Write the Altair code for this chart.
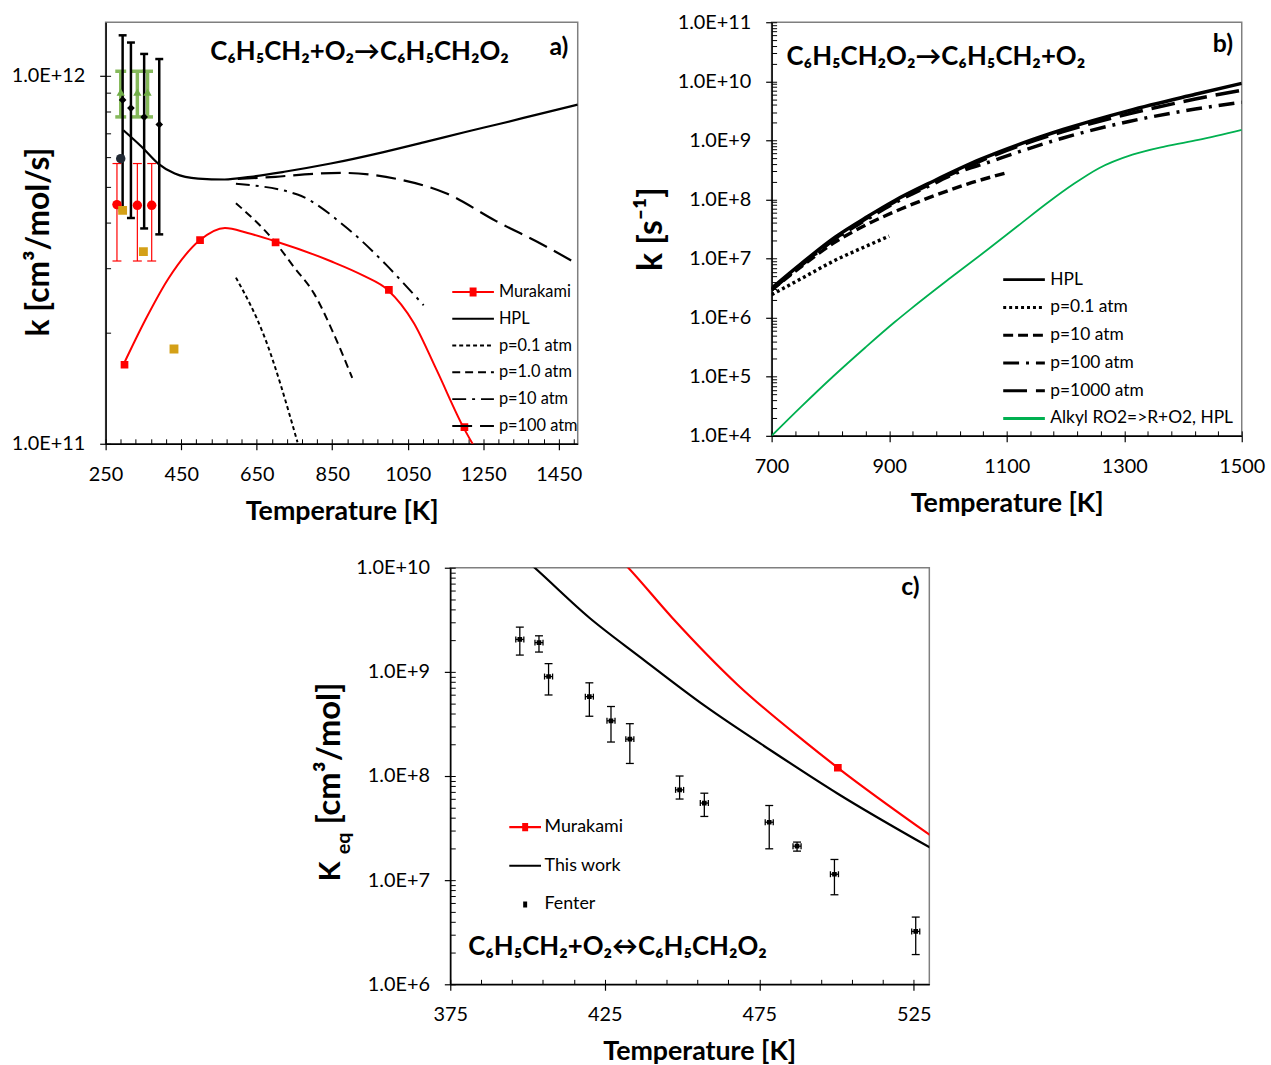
import altair as alt
import pandas as pd

FONT = "Lato"

# ---------------- Panel a : C6H5CH2 + O2 -> C6H5CH2O2 ----------------
A_HPL_T = [297, 346, 389, 433, 495, 565, 634, 723, 846, 986, 1100, 1200, 1300, 1400, 1500]
A_HPL_K = [7.12e11, 6.41e11, 5.78e11, 5.43e11, 5.26e11, 5.23e11, 5.32e11, 5.49e11, 5.78e11,
           6.21e11, 6.63e11, 7.03e11, 7.44e11, 7.89e11, 8.36e11]
A_P01_T = [595, 670, 758]
A_P01_K = [2.83e11, 1.96e11, 1.01e11]
A_P1_T = [595, 696, 749, 802, 852, 903]
A_P1_K = [4.51e11, 3.56e11, 3.02e11, 2.56e11, 2.01e11, 1.51e11]
A_P10_T = [595, 758, 889, 995, 1039, 1092]
A_P10_K = [5.09e11, 4.76e11, 3.86e11, 3.05e11, 2.73e11, 2.38e11]
A_P100_T = [600, 700, 800, 882, 1021, 1153, 1284, 1400, 1495]
A_P100_K = [5.25e11, 5.32e11, 5.42e11, 5.45e11, 5.25e11, 4.79e11, 4.03e11, 3.51e11, 3.10e11]
A_MUR_T = [297, 355, 416, 500, 566, 626, 697, 845, 934, 997, 1066, 1126, 1197, 1224]
A_MUR_K = [1.64e11, 2.17e11, 2.81e11, 3.58e11, 3.86e11, 3.74e11, 3.56e11, 3.14e11, 2.86e11,
           2.62e11, 2.13e11, 1.59e11, 1.11e11, 0.99e11]
A_MUR_PT_T = [300, 500, 700, 1000, 1200]
A_MUR_PT_K = [1.64e11, 3.58e11, 3.53e11, 2.62e11, 1.11e11]

# experimental points, panel a
A_DIA_T = [295, 317, 352, 392]
A_DIA_K = [8.61e11, 8.18e11, 7.73e11, 7.38e11]
A_DIA_LO = [4.31e11, 4.11e11, 3.85e11, 3.71e11]
A_DIA_HI = [1.29e12, 1.233e12, 1.148e12, 1.112e12]
A_TRI_T = [290, 334, 361]
A_TRI_K = [9.04e11, 9.04e11, 9.04e11]
A_TRI_LO = [7.74e11, 7.74e11, 7.74e11]
A_TRI_HI = [1.03e12, 1.03e12, 1.03e12]
A_NAVY_T = [290]
A_NAVY_K = [5.96e11]
A_RED_T = [280, 334, 372]
A_RED_K = [4.47e11, 4.45e11, 4.45e11]
A_RED_LO = [3.14e11, 3.14e11, 3.14e11]
A_RED_HI = [5.78e11, 5.78e11, 5.78e11]
A_GOLD_T = [295, 350, 431]
A_GOLD_K = [4.31e11, 3.33e11, 1.81e11]

A_NAMES = ["Murakami", "HPL", "p=0.1 atm", "p=1.0 atm", "p=10 atm", "p=100 atm"]
A_X_MAJOR = [250, 450, 650, 850, 1050, 1250, 1450]
A_X_MINOR = list(range(250, 1501, 40))
A_Y_MAJOR = [1e11, 1e12]
A_Y_MINOR = [1e11, 2e11, 3e11, 4e11, 5e11, 6e11, 7e11, 8e11, 9e11, 1e12]
A_TITLE = "C₆H₅CH₂+O₂→C₆H₅CH₂O₂"

# ---------------- Panel b : C6H5CH2O2 -> C6H5CH2 + O2 ----------------
B_HPL_T = [700, 751, 808, 864, 909, 976, 1055, 1128, 1196, 1308, 1421, 1500]
B_HPL_K = [3.16e6, 8.32e6, 2.30e7, 5.19e7, 9.53e7, 2.06e8, 4.76e8, 9.06e8, 1.53e9, 3.20e9, 6.03e9, 9.23e9]
B_P01_T = [700, 751, 808, 864, 900]
B_P01_K = [2.45e6, 4.61e6, 9.35e6, 1.67e7, 2.40e7]
B_P10_T = [700, 751, 808, 864, 920, 976, 1033, 1100]
B_P10_K = [2.95e6, 7.41e6, 1.90e7, 3.86e7, 6.90e7, 1.15e8, 1.82e8, 2.84e8]
B_P100_T = [700, 751, 808, 864, 909, 976, 1010, 1072, 1128, 1196, 1308, 1421, 1500]
B_P100_K = [2.95e6, 7.76e6, 2.14e7, 4.73e7, 8.71e7, 1.86e8, 2.69e8, 4.37e8, 6.76e8, 1.10e9, 2.09e9, 3.39e9, 4.42e9]
B_P1000_T = [700, 751, 808, 864, 909, 976, 1055, 1128, 1196, 1308, 1421, 1500]
B_P1000_K = [3.02e6, 7.94e6, 2.19e7, 4.95e7, 9.12e7, 1.95e8, 4.47e8, 8.51e8, 1.41e9, 2.82e9, 5.01e9, 7.08e9]
B_ALK_T = [700, 750, 805, 860, 910, 937, 1000, 1066, 1120, 1173, 1215, 1257, 1314, 1370, 1426, 1500]
B_ALK_K = [1.0e4, 3.09e4, 1.02e5, 3.16e5, 8.51e5, 1.41e6, 4.37e6, 1.38e7, 3.63e7, 9.33e7, 1.86e8,
           3.39e8, 5.75e8, 7.94e8, 1.02e9, 1.51e9]

B_NAMES = ["HPL", "p=0.1 atm", "p=10 atm", "p=100 atm", "p=1000 atm", "Alkyl RO2=>R+O2, HPL"]
B_X_MAJOR = [700, 900, 1100, 1300, 1500]
B_X_MINOR = list(range(700, 1501, 40))
B_Y_MAJOR = [1e4, 1e5, 1e6, 1e7, 1e8, 1e9, 1e10, 1e11]
B_Y_MINOR = [m * 10 ** e for e in range(4, 11) for m in range(1, 10)] + [1e11]
B_TITLE = "C₆H₅CH₂O₂→C₆H₅CH₂+O₂"

# ---------------- Panel c : equilibrium constant ----------------
C_THIS_T = [400, 402.3, 420.0, 436.1, 457.5, 479.0, 500.4, 530.4]
C_THIS_K = [1.15e10, 1.0e10, 3.31e9, 1.41e9, 4.68e8, 1.74e8, 6.76e7, 2.04e7]
C_MUR_T = [431, 432.3, 446.8, 468.2, 489.7, 500.4, 530.4]
C_MUR_K = [1.12e10, 1.02e10, 3.31e9, 7.41e8, 2.14e8, 1.20e8, 2.69e7]
C_MUR_PT_T = [500.4]
C_MUR_PT_K = [1.20e8]
C_FEN_T = [397.5, 403.7, 406.8, 420.0, 427.0, 433.1, 449.2, 457.2, 478.2, 487.2, 499.3, 525.6]
C_FEN_K = [2.05e9, 1.91e9, 9.02e8, 5.78e8, 3.39e8, 2.26e8, 7.36e7, 5.50e7, 3.60e7, 2.12e7, 1.14e7, 3.22e6]
C_FEN_HI = [2.69e9, 2.22e9, 1.20e9, 7.85e8, 4.65e8, 3.18e8, 1.0e8, 6.84e7, 5.21e7, 2.32e7, 1.58e7, 4.42e6]
C_FEN_LO = [1.45e9, 1.55e9, 6.0e8, 3.75e8, 2.12e8, 1.32e8, 6.01e7, 4.09e7, 2.0e7, 1.90e7, 7.24e6, 1.93e6]
C_FEN_TERR = [1.3] * 12

C_NAMES = ["Murakami", "This work", "Fenter"]
C_X_MAJOR = [375, 425, 475, 525]
C_X_MINOR = list(range(375, 531, 10))
C_Y_MAJOR = [1e6, 1e7, 1e8, 1e9, 1e10]
C_Y_MINOR = [m * 10 ** e for e in range(6, 10) for m in range(1, 10)] + [1e10]
C_TITLE = "C₆H₅CH₂+O₂↔C₆H₅CH₂O₂"

LOG_LABEL = "replace(format(datum.value, '.1e'), 'e', 'E')"

# legend symbol paths (unit coordinates)
def line_path(h):
    return f"M-{h},0H{h}"

def square_rows(s):
    rows = [-s, -s / 2, 0, s / 2, s]
    return "".join(f"M-{s},{r}H{s}" for r in rows)

A_SHAPES = [line_path(2.1) + square_rows(0.35)] + [line_path(2.1)] * 5
B_SHAPES = [line_path(2.1)] * 6
C_SHAPES = [line_path(1.6) + square_rows(0.3), line_path(1.6), square_rows(0.2)]


def xscale(dom):
    return alt.Scale(domain=dom, nice=False, zero=False)


def yscale(dom):
    return alt.Scale(type="log", domain=dom, nice=False)


def x_axis(values, title_x=None):
    kw = dict(values=values, title="Temperature [K]", orient="bottom", labelFlush=False,
              labelOverlap=False, tickSize=6, labelPadding=15, titlePadding=14, format="d",
              titleFontSize=27, titleFontWeight="bold", titleFont=FONT, titleColor="black",
              labelFont=FONT, labelFontSize=20, labelColor="black", domainColor="black",
              domainWidth=1.5, tickColor="black", tickWidth=1.2, grid=False)
    if title_x is not None:
        kw["titleX"] = title_x
    return alt.Axis(**kw)


def y_axis(values, title, tx, ty, fs=32):
    kw = dict(values=values, orient="left", labelExpr=LOG_LABEL, labelFlush=False, labelOverlap=False,
              tickSize=6, labelPadding=15, labelFont=FONT, labelFontSize=20, labelColor="black",
              domainColor="black", domainWidth=1.5, tickColor="black", tickWidth=1.2, grid=False)
    if title:
        kw.update(title=title, titleX=tx, titleY=ty, titleAngle=270, titleAlign="center",
                  titleBaseline="middle", titleFontSize=fs, titleFontWeight="bold", titleFont=FONT,
                  titleColor="black")
    else:
        kw.update(title=None)
    return alt.Axis(**kw)


def minor_axes(xs, ys, xminor, yminor):
    x = alt.X("T:Q", scale=xs, axis=alt.Axis(values=xminor, labels=False, domain=False, title=None,
                                              tickSize={"expr": "-5"}, tickColor="black", tickWidth=1,
                                              grid=False, orient="bottom"))
    y = alt.Y("k:Q", scale=ys, axis=alt.Axis(values=yminor, labels=False, domain=False, title=None,
                                              tickSize={"expr": "-5"}, tickColor="black", tickWidth=1,
                                              grid=False, orient="left"))
    return x, y


def line_layer(T, K, xs, ys, color, width, dash=None, xaxis=None, yaxis=None):
    kw = dict(color=color, strokeWidth=width, interpolate="monotone", clip=True)
    if dash:
        kw["strokeDash"] = dash
    df = pd.DataFrame({"T": T, "k": K})
    return alt.Chart(df).mark_line(**kw).encode(
        x=alt.X("T:Q", scale=xs, axis=xaxis), y=alt.Y("k:Q", scale=ys, axis=yaxis))


def point_layer(T, K, xs, ys, shape, color, size):
    df = pd.DataFrame({"T": T, "k": K})
    return alt.Chart(df).mark_point(shape=shape, filled=True, color=color, size=size, opacity=1,
                                    clip=True).encode(
        x=alt.X("T:Q", scale=xs, axis=None), y=alt.Y("k:Q", scale=ys, axis=None))


def vbar_layers(T, LO, HI, xs, ys, color, width, cap):
    df = pd.DataFrame({"T": T, "lo": LO, "hi": HI})
    base = alt.Chart(df)
    rule = base.mark_rule(color=color, strokeWidth=width).encode(
        x=alt.X("T:Q", scale=xs, axis=None), y=alt.Y("lo:Q", scale=ys, axis=None), y2="hi:Q")
    lo = base.mark_tick(color=color, thickness=width, size=cap, orient="horizontal", opacity=1).encode(
        x=alt.X("T:Q", scale=xs, axis=None), y=alt.Y("lo:Q", scale=ys, axis=None))
    hi = base.mark_tick(color=color, thickness=width, size=cap, orient="horizontal", opacity=1).encode(
        x=alt.X("T:Q", scale=xs, axis=None), y=alt.Y("hi:Q", scale=ys, axis=None))
    return [rule, lo, hi]


def hbar_layers(T, ERR, K, xs, ys, color, width, cap):
    df = pd.DataFrame({"T": T, "e": ERR, "k": K})
    base = alt.Chart(df).transform_calculate(tlo="datum.T - datum.e", thi="datum.T + datum.e")
    rule = base.mark_rule(color=color, strokeWidth=width).encode(
        x=alt.X("tlo:Q", scale=xs, axis=None), x2="thi:Q", y=alt.Y("k:Q", scale=ys, axis=None))
    lo = base.mark_tick(color=color, thickness=width, size=cap, orient="vertical", opacity=1).encode(
        x=alt.X("tlo:Q", scale=xs, axis=None), y=alt.Y("k:Q", scale=ys, axis=None))
    hi = base.mark_tick(color=color, thickness=width, size=cap, orient="vertical", opacity=1).encode(
        x=alt.X("thi:Q", scale=xs, axis=None), y=alt.Y("k:Q", scale=ys, axis=None))
    return [rule, lo, hi]


def legend_layer(names, firstT, firstK, xs, ys, xminor, yminor, colors, shapes, dashes, legend):
    df = pd.DataFrame({"series": names, "T": firstT, "k": firstK})
    x, y = minor_axes(xs, ys, xminor, yminor)
    return alt.Chart(df).mark_point(opacity=0, filled=False, clip=True).encode(
        x=x, y=y,
        color=alt.Color("series:N", scale=alt.Scale(domain=names, range=colors), legend=legend),
        shape=alt.Shape("series:N", scale=alt.Scale(domain=names, range=shapes), legend=legend),
        strokeDash=alt.StrokeDash("series:N", scale=alt.Scale(domain=names, range=dashes), legend=legend),
    )


def text_layer(txt, x, y, size, align="center", angle=0, baseline="middle"):
    df = pd.DataFrame({"t": [txt]})
    kw = dict(font=FONT, fontSize=size, align=align, baseline=baseline, color="black", fontWeight="bold")
    if angle:
        kw["angle"] = angle
    return alt.Chart(df).mark_text(**kw).encode(x=alt.value(x), y=alt.value(y), text="t:N")


def make_legend(lx, ly, size, fs, offset, rowpad, sw):
    return alt.Legend(title=None, orient="none", legendX=lx, legendY=ly, symbolSize=size,
                      labelFontSize=fs, labelFont=FONT, labelColor="black", labelOffset=offset,
                      rowPadding=rowpad, padding=0, symbolOpacity=1, symbolStrokeWidth=sw,
                      labelLimit=400)

# ---------------- build panel a ----------------
AW, AH = 476, 425
axs = xscale([250, 1500])
ays = yscale([1e11, 1.4e12])
A_DASH = [[1, 0], [1, 0], [4, 3], [8, 5], [14, 6, 3, 6], [20, 8]]
a_layers = [
    line_layer(A_HPL_T, A_HPL_K, axs, ays, "black", 2.2, None,
               xaxis=x_axis(A_X_MAJOR), yaxis=y_axis(A_Y_MAJOR, "k [cm³/mol/s]", -67.5, 221)),
    line_layer(A_P01_T, A_P01_K, axs, ays, "black", 2, [4, 3]),
    line_layer(A_P1_T, A_P1_K, axs, ays, "black", 2, [8, 5]),
    line_layer(A_P10_T, A_P10_K, axs, ays, "black", 2, [14, 6, 3, 6]),
    line_layer(A_P100_T, A_P100_K, axs, ays, "black", 2.2, [20, 8]),
    line_layer(A_MUR_T, A_MUR_K, axs, ays, "#FF0000", 2),
    point_layer(A_MUR_PT_T, A_MUR_PT_K, axs, ays, "square", "#FF0000", 60),
]
a_layers += vbar_layers(A_TRI_T, A_TRI_LO, A_TRI_HI, axs, ays, "#86B95B", 3.5, 11)
a_layers += vbar_layers(A_RED_T, A_RED_LO, A_RED_HI, axs, ays, "#FF0000", 1.2, 9)
a_layers += vbar_layers(A_DIA_T, A_DIA_LO, A_DIA_HI, axs, ays, "black", 2.5, 8)
a_layers += [
    point_layer(A_NAVY_T, A_NAVY_K, axs, ays, "circle", "#222A35", 90),
    point_layer(A_RED_T, A_RED_K, axs, ays, "circle", "#FF0000", 90),
    point_layer(A_GOLD_T, A_GOLD_K, axs, ays, "square", "#D4A017", 80),
    point_layer(A_DIA_T, A_DIA_K, axs, ays, "diamond", "black", 60),
    point_layer(A_TRI_T, A_TRI_K, axs, ays, "triangle-up", "#70AD47", 70),
    legend_layer(A_NAMES, [A_MUR_T[0], A_HPL_T[0], A_P01_T[0], A_P1_T[0], A_P10_T[0], A_P100_T[0]],
                 [A_MUR_K[0], A_HPL_K[0], A_P01_K[0], A_P1_K[0], A_P10_K[0], A_P100_K[0]],
                 axs, ays, A_X_MINOR, A_Y_MINOR, ["#FF0000"] + ["black"] * 5, A_SHAPES, A_DASH,
                 make_legend(359.5, 261, 400, 16.5, 15, 7.0, 2)),
    text_layer(A_TITLE, 256, 30, 26),
    text_layer("a)", 457, 25, 25),
]
panel_a = alt.layer(*a_layers).resolve_axis(x="independent", y="independent").properties(width=AW, height=AH)

# ---------------- build panel b ----------------
BW, BH = 474, 417
bxs = xscale([700, 1500])
bys = yscale([1e4, 1e11])
B_DASH = [[1, 0], [3, 3], [10, 5], [16, 7, 3, 7], [24, 9], [1, 0]]
b_layers = [
    line_layer(B_ALK_T, B_ALK_K, bxs, bys, "#00B050", 1.8, None,
               xaxis=x_axis(B_X_MAJOR), yaxis=y_axis(B_Y_MAJOR, "k   [s⁻¹]", -121, 208, fs=34)),
    line_layer(B_P01_T, B_P01_K, bxs, bys, "black", 3.5, [3, 3]),
    line_layer(B_P10_T, B_P10_K, bxs, bys, "black", 3.5, [10, 5]),
    line_layer(B_P100_T, B_P100_K, bxs, bys, "black", 3.5, [16, 7, 3, 7]),
    line_layer(B_P1000_T, B_P1000_K, bxs, bys, "black", 3.5, [24, 9]),
    line_layer(B_HPL_T, B_HPL_K, bxs, bys, "black", 3.5),
    legend_layer(B_NAMES, [B_HPL_T[0], B_P01_T[0], B_P10_T[0], B_P100_T[0], B_P1000_T[0], B_ALK_T[0]],
                 [B_HPL_K[0], B_P01_K[0], B_P10_K[0], B_P100_K[0], B_P1000_K[0], B_ALK_K[0]],
                 bxs, bys, B_X_MINOR, B_Y_MINOR, ["black"] * 5 + ["#00B050"], B_SHAPES, B_DASH,
                 make_legend(243, 248, 400, 17.5, 15, 8, 3)),
    text_layer(B_TITLE, 15, 35, 26, align="left"),
    text_layer("b)", 455, 22, 25),
]
panel_b = alt.layer(*b_layers).resolve_axis(x="independent", y="independent").properties(width=BW, height=BH)

# ---------------- build panel c ----------------
CW, CH = 483, 420
cxs = xscale([375, 530])
cys = yscale([1e6, 1e10])
C_DASH = [[1, 0], [1, 0], [1, 0]]
c_layers = [
    line_layer(C_THIS_T, C_THIS_K, cxs, cys, "black", 2.2, None,
               xaxis=x_axis(C_X_MAJOR, title_x=251), yaxis=y_axis(C_Y_MAJOR, None, 0, 0)),
    line_layer(C_MUR_T, C_MUR_K, cxs, cys, "#FF0000", 2.2),
    point_layer(C_MUR_PT_T, C_MUR_PT_K, cxs, cys, "square", "#FF0000", 60),
]
c_layers += vbar_layers(C_FEN_T, C_FEN_LO, C_FEN_HI, cxs, cys, "black", 1.3, 8)
c_layers += hbar_layers(C_FEN_T, C_FEN_TERR, C_FEN_K, cxs, cys, "black", 1.3, 6)
c_layers += [
    point_layer(C_FEN_T, C_FEN_K, cxs, cys, "square", "black", 22),
    legend_layer(C_NAMES, [C_MUR_T[0], C_THIS_T[0], C_FEN_T[0]], [C_MUR_K[0], C_THIS_K[0], C_FEN_K[0]],
                 cxs, cys, C_X_MINOR, C_Y_MINOR, ["#FF0000", "black", "black"], C_SHAPES, C_DASH,
                 make_legend(64, 250, 400, 18, 8, 18, 2.2)),
    text_layer("c)", 464, 19, 25),
    text_layer(C_TITLE, 18, 382, 26, align="left"),
    text_layer("K", -111, 316, 29, align="left", angle=270, baseline="alphabetic"),
    text_layer("eq", -101, 289, 20, align="left", angle=270, baseline="alphabetic"),
    text_layer("[cm³/mol]", -111, 259, 33, align="left", angle=270, baseline="alphabetic"),
]
panel_c = alt.layer(*c_layers).resolve_axis(x="independent", y="independent").properties(width=CW, height=CH)

spacer = alt.Chart(pd.DataFrame({"s": [0]})).mark_point(opacity=0, size=1).encode(
    x=alt.X("s:Q", axis=None), y=alt.Y("s:Q", axis=None)
).properties(width=1, height=1, view=alt.ViewBackground(stroke="transparent"))

top = alt.hconcat(panel_a, panel_b, spacing=195.5, bounds="flush").resolve_scale(
    color="independent", shape="independent", strokeDash="independent")
bottom = alt.hconcat(spacer, panel_c, spacing=346.5, bounds="flush").resolve_scale(
    color="independent", shape="independent", strokeDash="independent")
chart = alt.vconcat(top, bottom, spacing=32).resolve_scale(
    color="independent", shape="independent", strokeDash="independent"
).properties(
    padding={"left": 9.5, "top": 7, "right": 5, "bottom": 2}, background="white"
).configure_view(stroke="#7f7f7f", strokeWidth=1.5)

chart.save("out.html", embed_options={"renderer": "svg", "actions": False})
